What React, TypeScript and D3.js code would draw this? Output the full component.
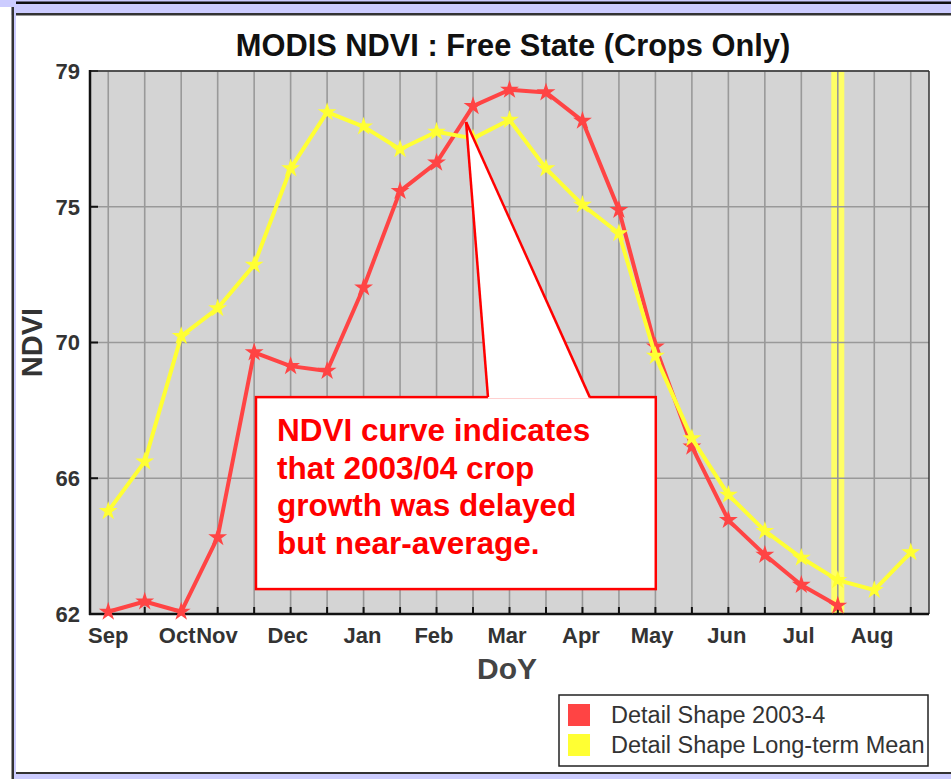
import React from "react";
import * as d3 from "d3";

// 16-day composites, Sep .. Aug
const periods = d3.range(23);
const ndvi2003 = [
  62.07, 62.39, 62.07, 64.4, 70.19, 69.76, 69.61, 72.22, 75.24, 76.13, 77.9,
  78.41, 78.33, 77.44, 74.65, 70.37, 67.24, 64.94, 63.85, 62.91, 62.26,
];
const ndviMean = [
  65.22, 66.77, 70.7, 71.57, 72.93, 75.95, 77.71, 77.26, 76.55, 77.1, 76.89,
  77.47, 75.95, 74.81, 73.92, 70.08, 67.5, 65.73, 64.6, 63.76, 63.06, 62.75,
  63.93,
];
const monthLabels = ["Sep", "Oct", "Nov", "Dec", "Jan", "Feb", "Mar", "Apr", "May", "Jun", "Jul", "Aug"];
const monthPos = [0, 1.89, 2.98, 4.92, 6.97, 8.93, 10.93, 12.96, 14.91, 16.96, 18.93, 20.94];
const yTickValues = [62, 66.25, 70.5, 74.75, 79];
const yTickLabels = ["62", "66", "70", "75", "79"];
const currentPeriod = 20;

const legendItems = [
  { label: "Detail Shape 2003-4", color: "#ff4444" },
  { label: "Detail Shape Long-term Mean", color: "#ffff33" },
];

const calloutLines = [
  "NDVI curve indicates",
  "that 2003/04 crop",
  "growth was delayed",
  "but near-average.",
];

const W = 951;
const H = 779;
const margin = { left: 90, right: 22, top: 71, bottom: 165 };

export default function App() {
  const plotL = margin.left;
  const plotR = W - margin.right;
  const plotT = margin.top;
  const plotB = H - margin.bottom;

  const x = d3
    .scaleLinear()
    .domain([-0.5, periods.length - 0.5])
    .range([plotL, plotR]);
  const y = d3.scaleLinear().domain([62, 79]).range([plotB, plotT]);

  const line = d3
    .line<number>()
    .x((d, i) => x(i))
    .y((d) => y(d));
  const star = d3.symbol().type(d3.symbolStar).size(110)();

  // callout, in data units
  const box = { i0: 4.05, i1: 15.01, v0: 68.79, v1: 62.78 };
  const tip = { i: 9.81, v: 77.4 };
  const base = [10.41, 13.2];
  const bx0 = x(box.i0);
  const bx1 = x(box.i1);
  const by0 = y(box.v0);
  const by1 = y(box.v1);

  const font = "'Liberation Sans', Arial, sans-serif";

  return (
    <svg
      width={W}
      height={H}
      style={{ position: "absolute", left: 0, top: 0, background: "#fff" }}
      fontFamily={font}
    >
      {/* page frame */}
      <rect x={0} y={0} width={W} height={15} fill="#ccccff" />
      <rect x={16} y={1.5} width={W - 16} height={2.5} fill="#111" />
      <rect x={16} y={13} width={W - 16} height={2.5} fill="#333" />
      <rect x={0} y={7} width={11.5} height={H - 7} fill="#fff" />
      <rect x={11.5} y={7} width={2.5} height={H - 7} fill="#333" />
      <rect x={14} y={7} width={2} height={H - 7} fill="#ccccff" />
      <rect x={16} y={772} width={W - 16} height={2} fill="#333" />
      <rect x={14} y={774} width={W - 14} height={5} fill="#ccccff" />

      <text
        x={513}
        y={56}
        textAnchor="middle"
        fontSize={30.8}
        fontWeight="bold"
        fill="#111"
      >
        MODIS NDVI : Free State (Crops Only)
      </text>

      {/* plot area */}
      <rect x={plotL} y={plotT} width={plotR - plotL} height={plotB - plotT} fill="#d4d4d4" />
      <rect
        x={x(currentPeriod) - 6.5}
        y={plotT}
        width={13}
        height={plotB - plotT}
        fill="#ffff66"
      />
      {periods.map((p) => (
        <line key={"vg" + p} x1={x(p)} x2={x(p)} y1={plotT} y2={plotB} stroke="#999" strokeWidth={1.6} />
      ))}
      {yTickValues.map((v) => (
        <line key={"hg" + v} x1={plotL} x2={plotR} y1={y(v)} y2={y(v)} stroke="#999" strokeWidth={1.6} />
      ))}
      {periods.map((p) => (
        <line key={"xt" + p} x1={x(p)} x2={x(p)} y1={plotB} y2={plotB - 7} stroke="#111" strokeWidth={2} />
      ))}
      {yTickValues.map((v) => (
        <line key={"yt" + v} x1={plotL} x2={plotL + 8} y1={y(v)} y2={y(v)} stroke="#111" strokeWidth={2} />
      ))}
      <line x1={plotL} x2={plotR} y1={plotT} y2={plotT} stroke="#333" strokeWidth={1.5} />
      <line x1={plotR} x2={plotR} y1={plotT} y2={plotB} stroke="#333" strokeWidth={1.5} />
      <line x1={plotL} x2={plotL} y1={plotT - 1} y2={plotB + 1} stroke="#111" strokeWidth={2.5} />
      <line x1={plotL - 1} x2={plotR} y1={plotB} y2={plotB} stroke="#111" strokeWidth={2.5} />

      {/* series */}
      <path d={line(ndvi2003) || ""} fill="none" stroke="#ff4444" strokeWidth={4} strokeLinejoin="round" />
      {ndvi2003.map((v, i) => (
        <path key={"rm" + i} d={star || ""} transform={`translate(${x(i)},${y(v)})`} fill="#ff4444" />
      ))}
      <path d={line(ndviMean) || ""} fill="none" stroke="#ffff33" strokeWidth={4} strokeLinejoin="round" />
      {ndviMean.map((v, i) => (
        <path key={"ym" + i} d={star || ""} transform={`translate(${x(i)},${y(v)})`} fill="#ffff33" />
      ))}

      {/* axes labels */}
      {yTickValues.map((v, i) => (
        <text
          key={"yl" + v}
          x={plotL - 10}
          y={y(v)}
          dy="0.36em"
          textAnchor="end"
          fontSize={22}
          fontWeight="bold"
          fill="#333"
        >
          {yTickLabels[i]}
        </text>
      ))}
      {monthLabels.map((m, i) => (
        <text
          key={"xl" + m}
          x={x(monthPos[i])}
          y={643}
          textAnchor="middle"
          fontSize={22}
          fontWeight="bold"
          fill="#333"
        >
          {m}
        </text>
      ))}
      <text x={507} y={679} textAnchor="middle" fontSize={30} fontWeight="bold" fill="#444">
        DoY
      </text>
      <text
        transform={`translate(42,${(plotT + plotB) / 2}) rotate(-90)`}
        textAnchor="middle"
        fontSize={29}
        fontWeight="bold"
        fill="#333"
      >
        NDVI
      </text>

      {/* callout */}
      <rect x={bx0} y={by0} width={bx1 - bx0} height={by1 - by0} fill="#fff" stroke="#ff0000" strokeWidth={2.5} />
      <polygon
        points={`${x(tip.i)},${y(tip.v)} ${x(base[0])},${by0 + 1.5} ${x(base[1])},${by0 + 1.5}`}
        fill="#fff"
      />
      <line x1={x(tip.i)} y1={y(tip.v)} x2={x(base[0])} y2={by0} stroke="#ff0000" strokeWidth={2.5} />
      <line x1={x(tip.i)} y1={y(tip.v)} x2={x(base[1])} y2={by0} stroke="#ff0000" strokeWidth={2.5} />
      {calloutLines.map((t, i) => (
        <text
          key={"cl" + i}
          x={bx0 + 21}
          y={by0 + 44 + i * 37.5}
          fontSize={31.5}
          fontWeight="bold"
          fill="#ff0000"
        >
          {t}
        </text>
      ))}

      {/* legend */}
      <rect x={559} y={695} width={369} height={71} fill="#fff" stroke="#222" strokeWidth={1.5} />
      {legendItems.map((d, i) => (
        <g key={d.label} transform={`translate(568,${704 + i * 30})`}>
          <rect width={22} height={22} fill={d.color} />
          <text x={43} y={19} fontSize={23.5} fill="#333">
            {d.label}
          </text>
        </g>
      ))}
    </svg>
  );
}
